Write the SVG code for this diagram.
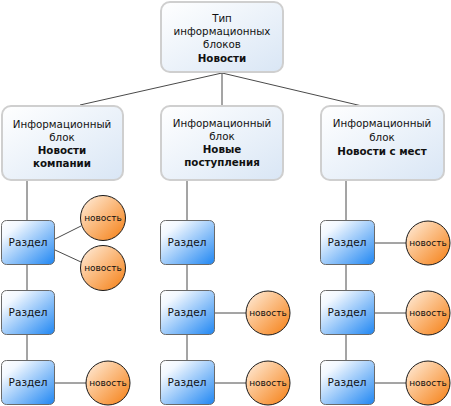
<svg xmlns="http://www.w3.org/2000/svg" width="451" height="406" viewBox="0 0 451 406">
<defs>
<linearGradient id="gInfo" x1="0" y1="0" x2="1" y2="1">
<stop offset="0" stop-color="#ffffff"/>
<stop offset="1" stop-color="#d9e6f5"/>
</linearGradient>
<linearGradient id="gSec" x1="0" y1="0" x2="1" y2="1">
<stop offset="0" stop-color="#ffffff"/>
<stop offset="0.2" stop-color="#f2f8ff"/>
<stop offset="1" stop-color="#1f86f2"/>
</linearGradient>
<linearGradient id="gNews" x1="0" y1="0" x2="1" y2="1">
<stop offset="0" stop-color="#fff1e4"/>
<stop offset="0.25" stop-color="#fdd3ab"/>
<stop offset="1" stop-color="#f57e12"/>
</linearGradient>
<filter id="soft" x="-10%" y="-10%" width="120%" height="120%">
<feGaussianBlur stdDeviation="0.7"/>
</filter>
</defs>
<style>
.info{fill:url(#gInfo);stroke:#cfcfcf;stroke-width:2}
.sec{fill:url(#gSec);stroke:#6a6a6a;stroke-width:1}
.news{fill:url(#gNews);stroke:#1a1a1a;stroke-width:1}
.ln{stroke:#4a4a4a;stroke-width:1;fill:none}
text{font-family:"DejaVu Sans",Verdana,sans-serif;fill:#111;text-anchor:middle}
.t{font-size:10.3px}
.b{font-size:10.3px;font-weight:bold}
.s{font-size:10.5px}
.n{font-size:9px}
</style>
<g id="connectors">
<line class="ln" x1="222" y1="73" x2="80" y2="105"/>
<line class="ln" x1="222" y1="73" x2="222" y2="106"/>
<line class="ln" x1="222" y1="73" x2="362" y2="106"/>
<line class="ln" x1="27" y1="180" x2="27" y2="221"/>
<line class="ln" x1="27" y1="265" x2="27" y2="291"/>
<line class="ln" x1="27" y1="335" x2="27" y2="361"/>
<line class="ln" x1="187" y1="180" x2="187" y2="221"/>
<line class="ln" x1="187" y1="265" x2="187" y2="291"/>
<line class="ln" x1="187" y1="335" x2="187" y2="361"/>
<line class="ln" x1="346" y1="180" x2="346" y2="221"/>
<line class="ln" x1="346" y1="265" x2="346" y2="291"/>
<line class="ln" x1="346" y1="335" x2="346" y2="361"/>
<line class="ln" x1="55" y1="239" x2="81" y2="226"/>
<line class="ln" x1="55" y1="250" x2="81" y2="262"/>
<line class="ln" x1="55" y1="383" x2="86" y2="383"/>
<line class="ln" x1="215" y1="313" x2="246" y2="313"/>
<line class="ln" x1="215" y1="383" x2="246" y2="383"/>
<line class="ln" x1="375" y1="243" x2="406" y2="243"/>
<line class="ln" x1="375" y1="313" x2="406" y2="313"/>
<line class="ln" x1="375" y1="383" x2="406" y2="383"/>
</g>
<g id="type-block">
<rect class="info" x="161" y="2" width="122" height="70" rx="9"/>
<text class="t" x="222" y="22">Тип</text>
<text class="t" x="222" y="35">информационных</text>
<text class="t" x="222" y="48">блоков</text>
<text class="b" x="222" y="62">Новости</text>
</g>
<g id="info-company">
<rect class="info" x="2" y="106" width="121" height="74" rx="9"/>
<text class="t" x="62" y="128">Информационный</text>
<text class="t" x="62" y="141">блок</text>
<text class="b" x="62" y="154">Новости</text>
<text class="b" x="62" y="167">компании</text>
</g>
<g id="info-new">
<rect class="info" x="161" y="106" width="122" height="74" rx="9"/>
<text class="t" x="222" y="127">Информационный</text>
<text class="t" x="222" y="140">блок</text>
<text class="b" x="222" y="153">Новые</text>
<text class="b" x="222" y="166">поступления</text>
</g>
<g id="info-places">
<rect class="info" x="321" y="106" width="123" height="74" rx="9"/>
<text class="t" x="382" y="127">Информационный</text>
<text class="t" x="382" y="141">блок</text>
<text class="b" x="382" y="155">Новости с мест</text>
</g>
<g id="sec-l1"><rect class="sec" x="1.5" y="220.5" width="53" height="44" rx="5"/><text class="s" x="28" y="246">Раздел</text></g>
<g id="sec-l2"><rect class="sec" x="1.5" y="290.5" width="53" height="44" rx="5"/><text class="s" x="28" y="316">Раздел</text></g>
<g id="sec-l3"><rect class="sec" x="1.5" y="360.5" width="53" height="44" rx="5"/><text class="s" x="28" y="386">Раздел</text></g>
<g id="sec-m1"><rect class="sec" x="160.5" y="220.5" width="54" height="44" rx="5"/><text class="s" x="187" y="246">Раздел</text></g>
<g id="sec-m2"><rect class="sec" x="160.5" y="290.5" width="54" height="44" rx="5"/><text class="s" x="187" y="316">Раздел</text></g>
<g id="sec-m3"><rect class="sec" x="160.5" y="360.5" width="54" height="44" rx="5"/><text class="s" x="187" y="386">Раздел</text></g>
<g id="sec-r1"><rect class="sec" x="320.5" y="220.5" width="54" height="44" rx="5"/><text class="s" x="347" y="246">Раздел</text></g>
<g id="sec-r2"><rect class="sec" x="320.5" y="290.5" width="54" height="44" rx="5"/><text class="s" x="347" y="316">Раздел</text></g>
<g id="sec-r3"><rect class="sec" x="320.5" y="360.5" width="54" height="44" rx="5"/><text class="s" x="347" y="386">Раздел</text></g>
<g id="news-l1"><circle class="news" cx="103" cy="218" r="22.5"/><text class="n" x="103" y="221">новость</text></g>
<g id="news-l2"><circle class="news" cx="103" cy="268" r="22.5"/><text class="n" x="103" y="271">новость</text></g>
<g id="news-l3"><circle class="news" cx="108" cy="383" r="22"/><text class="n" x="108" y="386">новость</text></g>
<g id="news-m2"><circle class="news" cx="268" cy="313" r="22"/><text class="n" x="268" y="316">новость</text></g>
<g id="news-m3"><circle class="news" cx="268" cy="383" r="22"/><text class="n" x="268" y="386">новость</text></g>
<g id="news-r1"><circle class="news" cx="428" cy="243" r="22"/><text class="n" x="428" y="246">новость</text></g>
<g id="news-r2"><circle class="news" cx="428" cy="313" r="22"/><text class="n" x="428" y="316">новость</text></g>
<g id="news-r3"><circle class="news" cx="428" cy="383" r="22"/><text class="n" x="428" y="386">новость</text></g>
</svg>
